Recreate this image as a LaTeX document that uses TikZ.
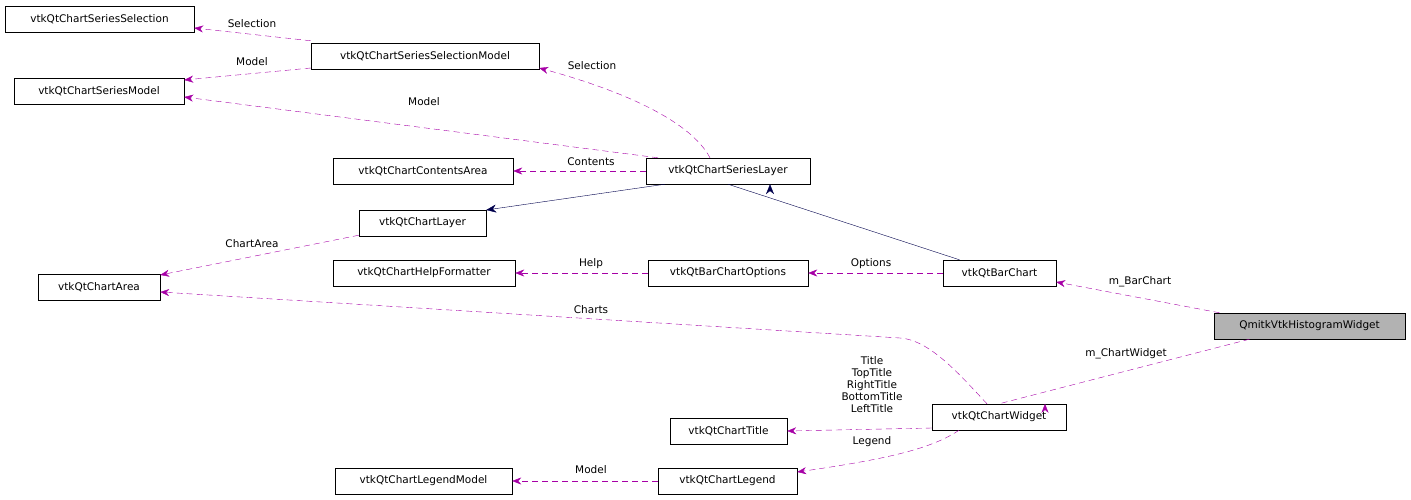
\documentclass[tikz,border=0pt]{standalone}
\usepackage{fontspec}
\setmainfont{DejaVu Sans}
\usetikzlibrary{arrows.meta}
\begin{document}
\begin{tikzpicture}[x=1pt,y=-1pt,
  box/.style={draw,fill=white,inner sep=0pt,minimum height=26pt,font=\fontsize{10.5}{12}\selectfont},
  use/.style={draw=violet!70!magenta,dashed,dash pattern=on 6pt off 4pt,-{Stealth[length=9pt,width=7pt]},fill=none},
  inh/.style={draw=blue!30!black,-{Stealth[length=10pt,width=8pt]}},
  lab/.style={font=\fontsize{10.5}{12}\selectfont,inner sep=1pt,align=center}]
\useasboundingbox (0,0) rectangle (1411,500);
\node[box,minimum width=189pt] (sel) at (99.5,19) {vtkQtChartSeriesSelection};
\node[box,minimum width=228pt] (selm) at (425,56) {vtkQtChartSeriesSelectionModel};
\node[box,minimum width=170pt] (sm) at (99,91) {vtkQtChartSeriesModel};
\node[box,minimum width=180pt] (ca) at (423,171) {vtkQtChartContentsArea};
\node[box,minimum width=164pt] (sl) at (728,171) {vtkQtChartSeriesLayer};
\node[box,minimum width=127pt] (ly) at (422.5,223) {vtkQtChartLayer};
\node[box,minimum width=122pt] (ar) at (99,287.5) {vtkQtChartArea};
\node[box,minimum width=182pt] (hf) at (424,273) {vtkQtChartHelpFormatter};
\node[box,minimum width=160pt] (bo) at (728,273) {vtkQtBarChartOptions};
\node[box,minimum width=113pt] (bc) at (999.5,273) {vtkQtBarChart};
\node[box,minimum width=191pt,fill=black!30] (qm) at (1309.5,326) {QmitkVtkHistogramWidget};
\node[box,minimum width=134pt] (cw) at (999,417) {vtkQtChartWidget};
\node[box,minimum width=117pt] (ct) at (728.5,431) {vtkQtChartTitle};
\node[box,minimum width=177pt] (lm) at (423.5,481) {vtkQtChartLegendModel};
\node[box,minimum width=139pt] (lg) at (727.5,481) {vtkQtChartLegend};

\draw[use] (selm.north west) ++(0,-2) coordinate (a1) -- (sel.south east |- 0,28) coordinate (a1e);
\node[lab] at (252,24) {Selection};
\draw[use] (selm.west |- 0,68) -- (sm.east |- 0,80);
\node[lab] at (252,62) {Model};
\draw[use] (sl.north) ++(-18,0) .. controls (690,120) and (620,90) .. (selm.east |- 0,68);
\node[lab] at (592,66) {Selection};
\draw[use] (sl.north) ++(-70,0) -- (sm.east |- 0,97);
\node[lab] at (424,102) {Model};
\draw[use] (sl) -- (ca);
\node[lab] at (591,162) {Contents};
\draw[inh] (sl.south) ++(-63,0) -- (ly.east |- 0,210);
\draw[inh] (bc.north) ++(-40,0) -- (sl.south) ++(42,0);
\draw[use] (ly.south west) ++(0,-1) -- (ar.east |- 0,275);
\node[lab] at (252,244) {ChartArea};
\draw[use] (bo) -- (hf);
\node[lab] at (591,264) {Help};
\draw[use] (bc) -- (bo);
\node[lab] at (871,264) {Options};
\draw[use] (qm.north) ++(-90,0) -- (bc.east |- 0,282);
\node[lab] at (1140,282) {m\_BarChart};
\draw[use] (qm.south) ++(-60,0) -- (cw.north) ++(46,0);
\node[lab] at (1126,354) {m\_ChartWidget};
\draw[use] (cw.north) ++(-12,0) .. controls (960,375) and (930,340) .. (900,338) -- (ar.east |- 0,292);
\node[lab] at (591,310) {Charts};
\draw[use] (cw.west |- 0,428) -- (ct.east);
\node[lab] at (872,385) {Title\\TopTitle\\RightTitle\\BottomTitle\\LeftTitle};
\draw[use] (cw.south) ++(-40,0) .. controls (930,450) and (880,460) .. (lg.east |- 0,472);
\node[lab] at (872,442) {Legend};
\draw[use] (lg) -- (lm);
\node[lab] at (591,470) {Model};
\end{tikzpicture}
\end{document}
